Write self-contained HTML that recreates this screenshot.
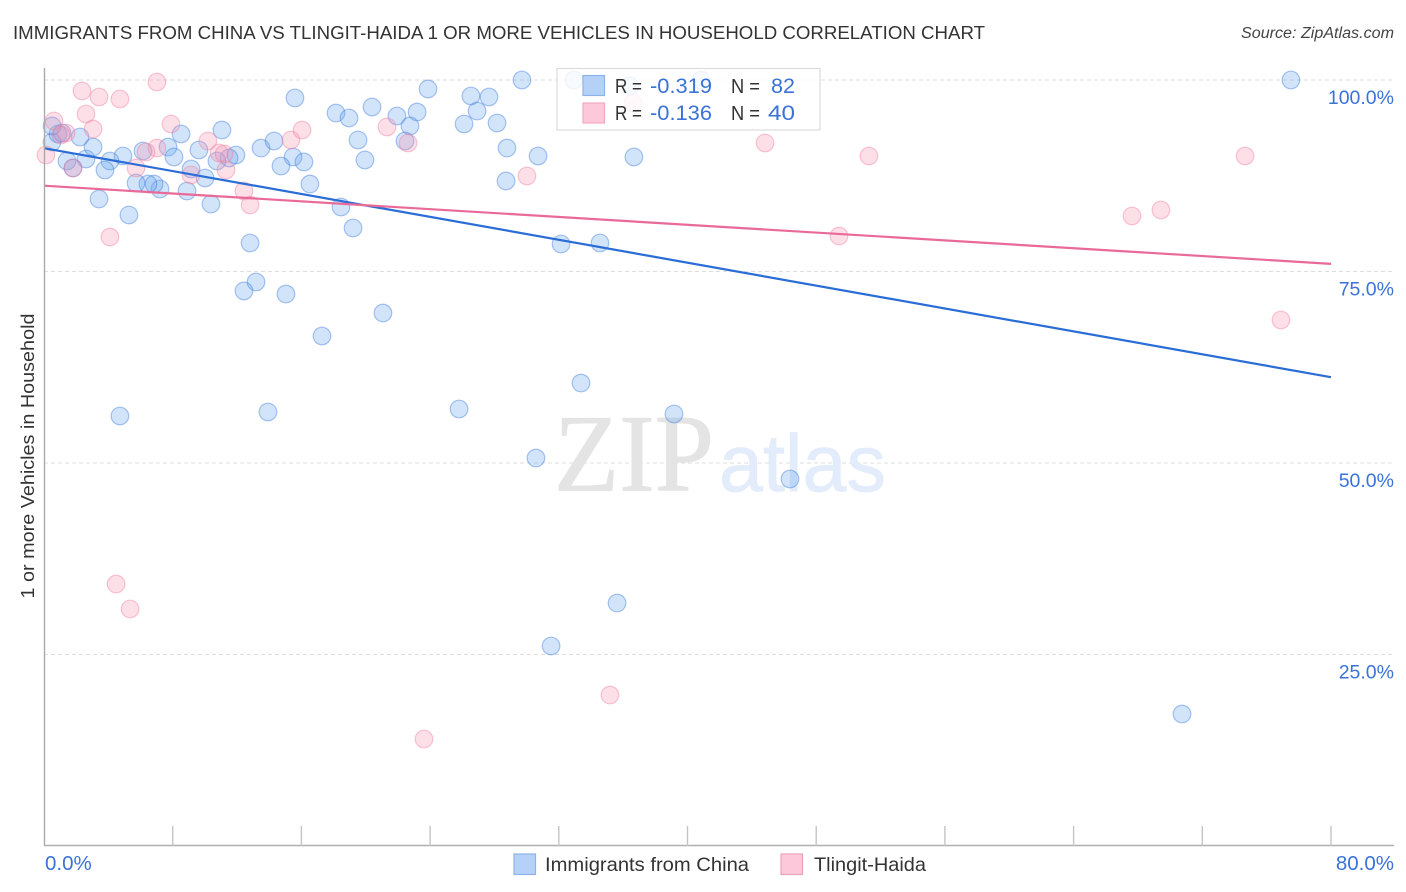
<!DOCTYPE html>
<html>
<head>
<meta charset="utf-8">
<title>Immigrants from China vs Tlingit-Haida chart</title>
<style>
html,body{margin:0;padding:0;background:#fff;width:1406px;height:892px;overflow:hidden}
svg{display:block;font-family:"Liberation Sans",sans-serif}
</style>
</head>
<body>
<svg id="chart" xmlns="http://www.w3.org/2000/svg" width="1406" height="892" viewBox="0 0 1406 892">
  <rect x="0" y="0" width="1406" height="892" fill="#fff"/>
  <text x="13" y="39" font-size="18.5" fill="#333" textLength="972" lengthAdjust="spacingAndGlyphs">IMMIGRANTS FROM CHINA VS TLINGIT-HAIDA 1 OR MORE VEHICLES IN HOUSEHOLD CORRELATION CHART</text>
  <text x="1241" y="38" font-size="15.5" font-style="italic" fill="#444" textLength="153" lengthAdjust="spacingAndGlyphs">Source: ZipAtlas.com</text>
  <g id="grid"></g>
  <g id="watermark">
    <text x="554" y="490.5" style="font-family:'Liberation Serif',serif" font-size="110" fill="#e4e4e4" stroke="#e4e4e4" stroke-width="1" textLength="160" lengthAdjust="spacingAndGlyphs">ZIP</text>
    <text x="719" y="491" style="font-family:'Liberation Sans',sans-serif" font-size="81" fill="#e3ecfb" stroke="#e3ecfb" stroke-width="0.8" textLength="167" lengthAdjust="spacingAndGlyphs">atlas</text>
  </g>
  <g id="points-blue"></g>
  <g id="points-pink"></g>
  <g id="trends"></g>
  <g id="axes"></g>
  <g id="tick-labels"></g>
  <text transform="translate(34 456) rotate(-90)" font-size="18.5" fill="#333" text-anchor="middle" textLength="285" lengthAdjust="spacingAndGlyphs">1 or more Vehicles in Household</text>

  <g>
    <rect x="557" y="68.5" width="263" height="61.5" fill="#fff" fill-opacity="0.82" stroke="#dcdcdc" stroke-width="1.2"/>
    <rect x="583" y="75.5" width="21.5" height="20" fill="#b5d1f7" stroke="#8db3e8" stroke-width="1.2"/>
    <rect x="583" y="103" width="21.5" height="20" fill="#fcc8da" stroke="#f2a9c0" stroke-width="1.2"/>
    <g font-size="20" fill="#333">
      <text x="615" y="93" textLength="27" lengthAdjust="spacingAndGlyphs">R =</text>
      <text x="650" y="93" fill="#3a72d8" font-size="21" textLength="62" lengthAdjust="spacingAndGlyphs">-0.319</text>
      <text x="731" y="93" textLength="29" lengthAdjust="spacingAndGlyphs">N =</text>
      <text x="771" y="93" fill="#3a72d8" font-size="21" textLength="24" lengthAdjust="spacingAndGlyphs">82</text>
      <text x="615" y="120" textLength="27" lengthAdjust="spacingAndGlyphs">R =</text>
      <text x="650" y="120" fill="#3a72d8" font-size="21" textLength="62" lengthAdjust="spacingAndGlyphs">-0.136</text>
      <text x="731" y="120" textLength="29" lengthAdjust="spacingAndGlyphs">N =</text>
      <text x="768" y="120" fill="#3a72d8" font-size="21" textLength="27" lengthAdjust="spacingAndGlyphs">40</text>
    </g>
  </g>

  <g>
    <rect x="514" y="854" width="21.5" height="20.5" fill="#b5d1f7" stroke="#8db3e8" stroke-width="1.2"/>
    <text x="545" y="871" font-size="19.5" fill="#333" textLength="204" lengthAdjust="spacingAndGlyphs">Immigrants from China</text>
    <rect x="781" y="854" width="21.5" height="20.5" fill="#fcc8da" stroke="#e8a3b8" stroke-width="1.2"/>
    <text x="814" y="871" font-size="19.5" fill="#333" textLength="112" lengthAdjust="spacingAndGlyphs">Tlingit-Haida</text>
  </g>
</svg>
<script>
const chinaX = [29.71,32.94,40.84,77.51,23.87,26.54,27.66,15.60,20.39,18.15,18.96,21.94,23.19,26.92,26.11,28.16,11.06,8.52,19.52,22.75,36.43,22.44,13.49,14.30,28.78,30.71,36.67,19.95,15.48,16.16,14.73,11.93,11.50,10.75,9.63,7.71,8.08,6.15,4.91,4.10,2.61,3.05,2.24,1.43,1.80,3.79,0.50,0.87,1.12,0.50,9.14,10.01,8.89,10.38,7.21,6.84,6.46,5.72,5.28,3.42,16.53,18.46,19.21,28.72,32.14,34.56,12.81,13.18,12.43,15.04,21.07,17.28,33.38,4.72,13.92,25.80,39.16,30.58,46.37,35.62,31.52,70.74];
const chinaY = [100,100,100,100,98.83,97.91,97.78,97.65,96.48,95.69,95.04,95.30,95.82,95.95,94.26,94.39,93.47,92.95,92.17,94.00,99.22,92.04,91.12,92.04,91.12,90.08,89.95,89.56,89.95,89.30,88.77,90.21,89.82,89.43,90.86,91.25,89.95,90.73,90.08,89.43,89.69,91.25,92.56,89.43,88.51,88.25,91.91,92.95,93.08,94.00,88.38,87.21,85.51,83.81,85.77,86.42,86.42,86.55,82.38,84.47,86.42,83.42,80.68,86.82,78.59,78.72,78.72,73.63,72.46,72.06,69.58,66.58,60.44,56.14,56.66,57.05,56.40,50.65,47.91,31.72,26.11,17.23];
const tlingitX = [7.02,2.36,3.42,4.72,2.61,0.62,3.05,1.37,1.06,0.12,7.89,10.19,7.02,6.34,5.72,1.80,9.14,10.88,11.19,11.31,12.43,12.81,15.35,16.04,21.32,22.63,30.02,4.10,36.61,44.82,51.28,49.42,67.63,69.43,74.66,76.89,4.48,5.35,35.18,23.62];
const tlingitY = [99.74,98.57,97.78,97.52,95.56,94.65,93.60,93.08,92.82,90.21,94.26,92.04,91.12,90.60,88.51,88.51,87.60,90.47,90.34,88.25,85.51,83.68,92.17,93.47,93.87,91.78,87.47,79.50,97.00,91.78,90.08,79.63,82.25,83.03,90.08,68.67,34.20,30.94,19.71,13.97];
const trendX = [0,80];
const chinaTrend = [91.1,61.2];
const tlingitTrend = [86.2,76.0];
const yTickValues = [100,75,50,25];
const yTickLabels = ["100.0%","75.0%","50.0%","25.0%"];
const xTickValues = [8,16,24,32,40,48,56,64,72,80];
const xEndLabels = ["0.0%","80.0%"];

const NS = "http://www.w3.org/2000/svg";
function xScale(v){ return 44 + v * (1331 - 44) / 80; }
function yScale(v){ return 846 - v * (846 - 80) / 100; }
function make(tag, attrs, parent){
  const el = document.createElementNS(NS, tag);
  for (const k in attrs) el.setAttribute(k, attrs[k]);
  parent.appendChild(el);
  return el;
}

const grid = document.getElementById("grid");
yTickValues.forEach(function(v){
  const line = make("line", {x1:44, x2:1394, y1:yScale(v), y2:yScale(v), stroke:"#dddddd", "stroke-width":1, "stroke-dasharray":"4 3"}, grid);
  
  
});

function drawPoints(groupId, xs, ys, fill, stroke, name){
  const g = document.getElementById(groupId);
  xs.forEach(function(x, i){
    const c = make("circle", {cx:xScale(x), cy:yScale(ys[i]), r:8.8, fill:fill, stroke:stroke, "stroke-width":1.2}, g);
    
    
  });
}
drawPoints("points-pink", tlingitX, tlingitY, "rgba(250,150,178,0.3)", "rgba(238,125,158,0.42)", "tlingit-haida-point");
drawPoints("points-blue", chinaX, chinaY, "rgba(105,165,240,0.3)", "rgba(55,120,220,0.42)", "china-point");

const trends = document.getElementById("trends");
const chinaLine = make("line", {x1:xScale(trendX[0]), y1:yScale(chinaTrend[0]), x2:xScale(trendX[1]), y2:yScale(chinaTrend[1]), stroke:"#2a6dd6", "stroke-width":2.2}, trends);


const tlingitLine = make("line", {x1:xScale(trendX[0]), y1:yScale(tlingitTrend[0]), x2:xScale(trendX[1]), y2:yScale(tlingitTrend[1]), stroke:"#e96a98", "stroke-width":2.2}, trends);



const axes = document.getElementById("axes");
const yAxis = make("line", {x1:44.5, x2:44.5, y1:68, y2:846, stroke:"#aaaaaa", "stroke-width":1.4}, axes);


const xAxis = make("line", {x1:44, x2:1394, y1:845.5, y2:845.5, stroke:"#b0b0b0", "stroke-width":1.4}, axes);


xTickValues.forEach(function(v){
  const t = make("line", {x1:xScale(v), x2:xScale(v), y1:826, y2:846, stroke:"#c4c4c4", "stroke-width":1.4}, axes);
  
  
});

const labels = document.getElementById("tick-labels");
yTickValues.forEach(function(v, i){
  const t = make("text", {x:1394, y:yScale(v) + 24, "text-anchor":"end", "font-size":19.5, fill:"#3a72d8"}, labels);
  t.textContent = yTickLabels[i];
  
  
});
const x0 = make("text", {x:45, y:870, "font-size":20.5, fill:"#3a72d8"}, labels);
x0.textContent = xEndLabels[0];


const x1 = make("text", {x:1394, y:870, "text-anchor":"end", "font-size":20.5, fill:"#3a72d8"}, labels);
x1.textContent = xEndLabels[1];


</script>
</body>
</html>
